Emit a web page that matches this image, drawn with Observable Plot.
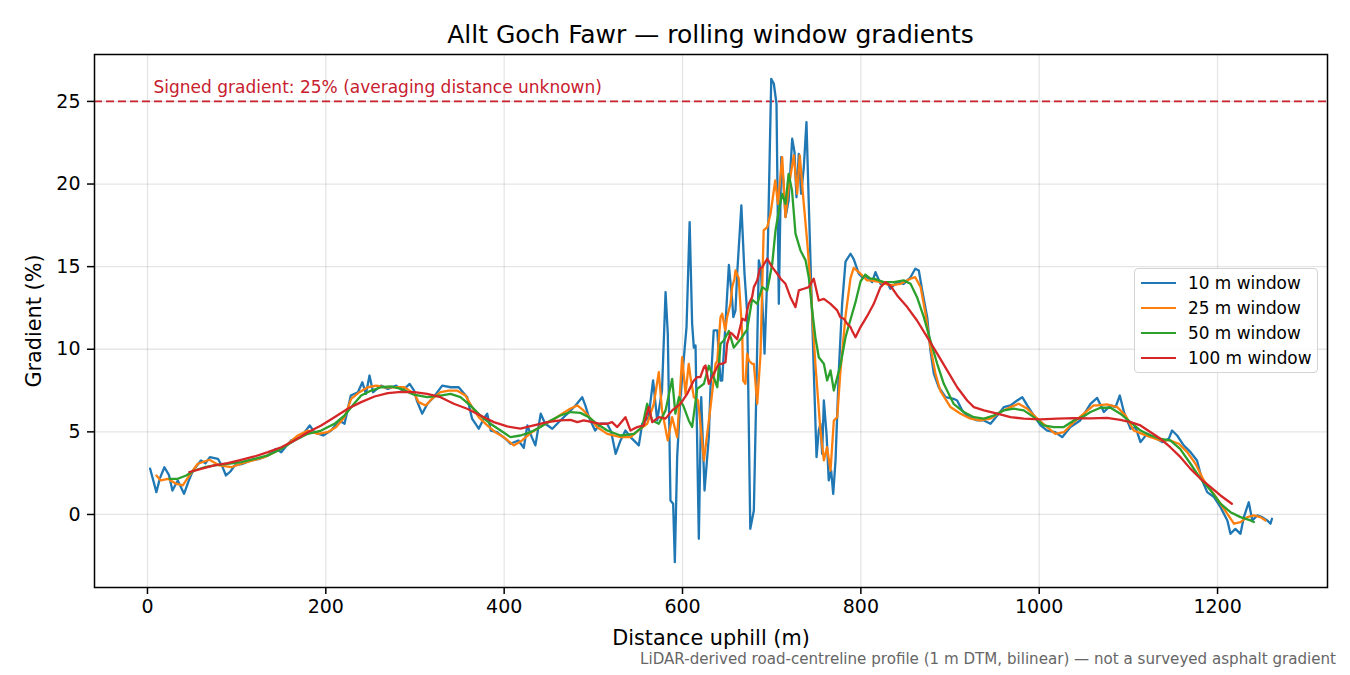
<!DOCTYPE html>
<html><head><meta charset="utf-8">
<script src="https://cdn.jsdelivr.net/npm/d3@7"></script>
<script src="https://cdn.jsdelivr.net/npm/@observablehq/plot@0.6"></script>
<style>
html,body{margin:0;padding:0;background:#fff;}
#wrap{position:relative;width:1350px;height:675px;font-family:"DejaVu Sans",sans-serif;overflow:hidden;}
#title{position:absolute;left:94px;width:1233px;top:22px;text-align:center;font-size:25px;line-height:25px;color:#000;}
#caption{position:absolute;right:14px;top:652px;font-size:15.1px;line-height:15px;color:#666;white-space:nowrap;}
#legend{position:absolute;left:1134px;top:268px;width:182px;height:103px;border:1px solid #d4d4d4;border-radius:4px;background:rgba(255,255,255,0.85);}
.row{position:absolute;left:0;height:25px;width:180px;}
.sw{position:absolute;left:6px;top:11px;width:35px;height:0;border-top:2.4px solid;}
.lb{position:absolute;left:53px;top:0;font-size:16.9px;line-height:25px;color:#000;white-space:nowrap;}
</style></head><body>
<div id="wrap">
  <div id="chart"></div>
  <div id="title">Allt Goch Fawr — rolling window gradients</div>
  <div id="legend"></div>
  <div id="caption">LiDAR-derived road-centreline profile (1 m DTM, bilinear) — not a surveyed asphalt gradient</div>
</div>
<script>
// ---- data (distance m, gradient %) ----
const seriesNames = ["10 m window", "25 m window", "50 m window", "100 m window"];
const seriesColors = ["#1f77b4", "#ff7f0e", "#2ca02c", "#d62728"];
const xTicks = [0, 200, 400, 600, 800, 1000, 1200];
const yTicks = [0, 5, 10, 15, 20, 25];
const signedGradient = 25;

const win10 = [[3,2.77],[10,1.35],[14,2.2],[19,2.86],[24,2.4],[28,1.45],[34,2.06],[41,1.25],[46,2.0],[51,2.66],[60,3.27],[65,3.1],[70,3.47],[79,3.37],[84,2.9],[88,2.36],[93,2.6],[98,2.97],[107,3.07],[116,3.27],[126,3.37],[135,3.57],[144,3.97],[150,3.77],[155,4.1],[161,4.48],[172,4.68],[182,5.39],[187,4.98],[197,4.78],[206,5.08],[215,5.69],[221,5.49],[228,7.2],[236,7.4],[241,8.0],[245,7.3],[249,8.41],[253,7.4],[262,7.8],[269.5,7.6],[279,7.8],[286,7.5],[294,7.9],[299,7.5],[302,6.9],[308,6.1],[314,6.7],[321,7.1],[330.5,7.8],[340,7.7],[349,7.7],[358.5,7.1],[364,5.8],[371.5,5.19],[377,5.8],[381,6.1],[385,5.08],[392,4.98],[401.5,4.58],[407,4.28],[416,4.48],[422,4.04],[426,5.39],[431,4.68],[435,4.18],[441,6.1],[446,5.49],[454,5.19],[463,5.69],[471,6.1],[480,6.6],[487.5,7.1],[491,6.6],[495,5.89],[502,5.08],[508,5.49],[515.5,5.49],[520,5.0],[525,3.67],[530.5,4.48],[536,5.08],[541.7,4.68],[551,4.18],[554.8,5.49],[562,5.89],[567,8.11],[571.6,5.69],[577,7.5],[581,13.46],[583.5,10.94],[586.5,0.85],[589.5,0.65],[591.4,-2.89],[594,3.47],[597.7,7.1],[604.5,11.34],[608,17.7],[610.8,11.54],[612.7,10.1],[614.6,10.23],[618.3,-1.47],[621,7.1],[624.7,1.45],[629.5,4.68],[631.4,7.7],[635,11.14],[639,11.14],[642.6,8.11],[644.5,8.11],[652,15.1],[655.7,12.95],[657,11.94],[659.4,12.35],[661.3,14.57],[666,18.7],[669.5,14.6],[672.5,12.2],[676,-0.87],[680,0.24],[683,8.0],[685.6,15.38],[688,14.77],[692,9.73],[695,14.36],[699.5,26.37],[702.4,26.07],[705.4,24.86],[708,12.75],[710.7,21.63],[713,20.22],[715.5,18.0],[719,19.0],[723,22.74],[725.6,21.93],[727.8,19.2],[730.4,21.83],[733,19.41],[736,21.0],[739,23.75],[741.6,18.8],[744.3,13.96],[747.2,8.72],[750.3,3.47],[752.8,5.08],[754.7,5.49],[756.6,3.67],[758.5,6.9],[761.5,4.88],[764,2.06],[766.7,2.66],[769,1.25],[771.6,3.27],[775.3,8.72],[779,12.75],[782.8,15.3],[788.4,15.78],[792,15.45],[797.7,14.57],[801.5,14.36],[807,14.36],[812.7,14.06],[816.4,14.67],[822,13.96],[829.5,14.06],[833,13.66],[840.7,14.06],[848,13.96],[855.7,14.36],[861,14.87],[865,14.77],[868.8,13.56],[874.4,11.94],[878,9.93],[881.8,8.52],[887.4,7.7],[895,7.1],[904,7.0],[908,6.9],[913.6,6.3],[921,5.89],[930.5,5.69],[938,5.69],[945.4,5.49],[953,5.99],[960.3,6.5],[967.8,6.6],[975.3,6.9],[981,7.1],[986.6,6.6],[994,5.99],[1001.5,5.39],[1009,5.08],[1018,4.98],[1025.8,4.68],[1035,5.29],[1046,5.69],[1057.5,6.7],[1065,7.05],[1072.5,6.2],[1080,6.6],[1085.6,6.5],[1090.4,7.2],[1095,6.2],[1102.4,5.19],[1108,5.29],[1113.6,4.38],[1121,4.88],[1128.5,4.68],[1138,4.38],[1145.3,4.58],[1149,5.08],[1154.7,4.78],[1162,4.18],[1169.7,3.77],[1177,3.27],[1182.8,2.06],[1188.4,1.35],[1196,1.05],[1203.3,0.44],[1211,-0.36],[1214.5,-1.17],[1220,-0.87],[1225.7,-1.17],[1229.5,-0.16],[1235,0.74],[1239,-0.36],[1244.5,-0.06],[1250,-0.16],[1255.7,-0.36],[1259.4,-0.56],[1261,-0.26]];

const win25 = [[10,2.36],[15,2.06],[23,2.16],[32,1.86],[39.6,1.76],[47,2.36],[56.4,3.07],[69.5,3.31],[80.7,2.97],[93.8,2.86],[105,3.07],[118,3.27],[131,3.47],[142.4,3.77],[155.5,4.18],[168.6,4.78],[179.8,5.08],[191,4.88],[202,4.98],[211.6,5.29],[221,5.89],[228.4,7.0],[237.7,7.4],[247,7.7],[256.5,7.8],[266,7.7],[277,7.7],[288,7.7],[299.4,7.3],[304,6.8],[312,6.6],[319,7.0],[328.6,7.4],[338,7.5],[347,7.5],[356.6,7.2],[364,6.5],[371.5,5.89],[381,5.39],[390,4.98],[399.6,4.68],[410.8,4.18],[420,4.48],[431,4.98],[442.6,5.39],[454,5.69],[465,6.1],[474,6.4],[482,6.6],[489,6.3],[497,5.8],[504,5.29],[515.6,4.88],[530.5,4.68],[541.7,4.68],[553,5.19],[560.4,5.49],[567.8,6.7],[573.4,8.61],[577,6.3],[583.5,4.48],[588.4,5.89],[594,4.68],[599.6,9.52],[603.4,7.3],[607,9.12],[609,8.3],[612.7,7.1],[617.5,6.9],[624,3.27],[631.4,6.5],[637,9.12],[639,9.3],[642.6,11.94],[644.5,12.15],[648,11.14],[650,11.94],[653.8,12.75],[655.7,13.76],[658.3,14.27],[659.4,14.77],[663,14.3],[667,10.94],[668,8.11],[670.6,7.91],[672.5,9.73],[674.4,9.32],[678,9.12],[680,9.12],[683.8,6.7],[687.5,9.73],[691,17.19],[695,17.39],[698.7,18.2],[704,20.22],[707,18.8],[711.8,21.63],[715.5,18.0],[719,19.8],[724.8,21.73],[728.6,19.41],[731.5,21.73],[736,18.8],[740,16.39],[743.5,13.96],[749,9.12],[754.7,5.08],[758.5,3.27],[762,4.07],[766,2.66],[769.7,5.69],[773.5,5.89],[777,8.6],[782.8,12.0],[788.4,14.3],[792,14.92],[799.6,14.57],[807,14.17],[810.8,14.17],[822,14.06],[833,13.86],[844.5,13.96],[855.7,14.27],[861,14.36],[867,13.76],[872.5,12.15],[878,10.13],[883.7,8.52],[889,7.5],[900.5,6.5],[911.8,6.1],[923,5.8],[934,5.69],[945.4,5.8],[956.6,6.2],[967.8,6.5],[977,6.7],[986.6,6.4],[997.8,5.8],[1009,5.29],[1018,4.88],[1027.6,4.98],[1038.8,5.59],[1050,6.1],[1061,6.6],[1065,6.6],[1076,6.66],[1087.5,6.5],[1096.8,5.99],[1106,5.08],[1115.5,4.88],[1125,4.68],[1136,4.48],[1147,4.48],[1156.6,4.28],[1166,3.77],[1175.3,3.07],[1184.6,2.06],[1195.8,1.25],[1203.3,0.65],[1211,0.04],[1218.4,-0.56],[1225.7,-0.46],[1233.3,-0.16],[1240.7,-0.06],[1248,-0.16],[1253.8,-0.36]];

const win50 = [[24.7,2.16],[34,2.16],[43.4,2.36],[52.7,2.66],[64,2.86],[75,2.97],[90,3.07],[105,3.17],[120,3.37],[135,3.57],[150,3.97],[164.9,4.48],[179.8,4.88],[194.8,5.08],[209.7,5.49],[221,5.99],[230,6.6],[239.6,7.2],[251,7.5],[262,7.7],[273,7.75],[284.5,7.6],[298.7,7.25],[313.7,7.1],[328.6,7.2],[339.8,7.3],[351,7.1],[362,6.6],[373.4,5.99],[384.7,5.49],[396,5.08],[407,4.68],[418.3,4.78],[429.5,4.98],[440.7,5.29],[452,5.69],[463,5.99],[474.4,6.2],[485.6,6.15],[495,5.89],[504,5.49],[515.6,5.08],[530.5,4.78],[545.4,4.88],[554.8,5.29],[560.4,6.7],[566,5.69],[573.4,5.49],[581,6.3],[588.4,8.21],[592,6.1],[596,7.1],[601.5,6.5],[607,5.69],[610.8,5.29],[616.5,7.6],[624,7.91],[629.5,9.0],[635,8.31],[639,7.7],[642.6,10.33],[646.3,10.53],[652,11.1],[657.5,10.1],[665,10.6],[672.5,11.2],[678,13.0],[683.8,12.75],[689.4,13.76],[695,13.56],[700.6,15.17],[704.3,17.19],[708,18.4],[711.8,19.41],[715.5,18.8],[719,20.62],[722.8,19.61],[726.7,17.0],[732.3,15.98],[738,15.38],[741.6,14.36],[745.4,12.35],[749,10.73],[752.8,9.52],[758.5,9.12],[762.2,8.11],[766,8.72],[769.7,7.5],[773.5,8.31],[777,9.0],[782.8,10.73],[788.4,11.8],[794,12.85],[799.6,14.1],[805,14.52],[810.8,14.27],[814.5,14.27],[825.7,14.06],[837,14.06],[848,14.17],[855.7,13.96],[863,13.15],[870.6,11.94],[878,10.53],[885.6,9.12],[893,7.91],[904,6.7],[915.4,6.2],[926.7,5.89],[938,5.8],[949,5.99],[960.3,6.3],[971.5,6.4],[982.7,6.3],[994,5.89],[1005,5.39],[1016.4,5.29],[1027.6,5.29],[1038.8,5.69],[1050,5.95],[1057.5,6.2],[1068.7,6.46],[1080,6.46],[1091,6.1],[1102.4,5.59],[1113.6,5.08],[1125,4.78],[1136,4.58],[1147,4.48],[1158,3.97],[1169.7,3.07],[1181,2.16],[1192.3,1.45],[1203.3,0.65],[1214.5,0.14],[1225.7,-0.16],[1237,-0.36],[1240.7,-0.46]];

const win100 = [[47,2.56],[60,2.76],[75,2.97],[90,3.11],[105,3.31],[120,3.51],[135,3.77],[150,4.07],[164.9,4.48],[179.8,4.98],[194.8,5.39],[209.7,5.89],[224.6,6.4],[239.6,6.8],[254.6,7.14],[269.5,7.34],[284.5,7.42],[299.4,7.4],[313.7,7.3],[328.6,7.1],[343.5,6.7],[358.5,6.4],[373.4,5.99],[388.4,5.59],[403.4,5.33],[418.3,5.19],[433.2,5.39],[448.2,5.59],[463,5.69],[474.4,5.73],[482,5.59],[489.3,5.69],[498.7,5.59],[508,5.49],[515.6,5.49],[521,5.59],[526.8,5.29],[536,5.89],[541.7,5.08],[549.2,5.29],[556.6,5.39],[562.2,6.5],[566,5.59],[573.4,5.89],[581,5.8],[588.4,6.3],[597.7,6.7],[605.2,7.3],[612.7,8.11],[616.5,8.31],[620,8.31],[624,8.92],[625.8,9.02],[629.5,7.91],[635,8.52],[637,8.72],[640.7,9.12],[644.5,9.12],[648.2,9.22],[650,10.33],[653.8,11.0],[655.7,10.94],[661.3,10.6],[667,11.85],[670.6,11.74],[672.5,12.35],[674.4,12.75],[678,13.15],[680,13.76],[683.8,14.17],[686.7,14.87],[689.4,14.97],[695,15.48],[700.6,14.97],[706.2,14.57],[710,14.27],[715.5,13.96],[721,13.15],[726.7,12.55],[730.4,13.56],[736,13.66],[741.6,13.76],[747.2,14.27],[752.8,12.95],[758.5,13.05],[766,12.75],[773.5,12.35],[777,11.94],[780.9,11.85],[784.7,11.54],[788.4,11.34],[790,11.14],[794,10.73],[799.6,11.34],[807,12.0],[814.5,12.75],[822,13.76],[827.6,14.06],[833,13.86],[840.7,13.26],[852,12.55],[863,11.74],[874.4,10.73],[885.6,9.73],[896.8,8.72],[908,7.7],[919.2,6.9],[926.7,6.5],[938,6.3],[953,6.1],[967.8,5.89],[982.7,5.8],[1001.5,5.75],[1020,5.8],[1038.8,5.83],[1057.5,5.82],[1076,5.85],[1091,5.73],[1102.4,5.59],[1113.6,5.39],[1125,4.98],[1136,4.58],[1147,4.07],[1158.5,3.47],[1169.7,2.76],[1181,2.16],[1192.3,1.65],[1203.3,1.15],[1216,0.65]];

const allSeries = [win10, win25, win50, win100];

// ---- chart ----
const lineMarks = allSeries.map((s, i) =>
  Plot.line(s, {x: d => d[0], y: d => d[1], stroke: seriesColors[i], strokeWidth: 2.3, strokeLinejoin: "round", curve: "linear"})
);

const chart = Plot.plot({
  width: 1350,
  height: 675,
  marginLeft: 94,
  marginRight: 23,
  marginTop: 54,
  marginBottom: 88,
  style: {fontFamily: "DejaVu Sans, sans-serif", background: "#fff", color: "#000"},
  x: {domain: [-59.4, 1323.3]},
  y: {domain: [-4.42, 27.84]},
  marks: [
    Plot.gridX(xTicks, {stroke: "#000", strokeOpacity: 0.1, strokeWidth: 1.3}),
    Plot.gridY(yTicks, {stroke: "#000", strokeOpacity: 0.1, strokeWidth: 1.3}),
    Plot.ruleY([signedGradient], {stroke: "#c8202f", strokeWidth: 1.6, strokeDasharray: "8,4"}),
    ...lineMarks,
    Plot.text([signedGradient], {x: () => xTicks[0], y: d => d, text: d => `Signed gradient: ${d}% (averaging distance unknown)`,
      textAnchor: "start", lineAnchor: "bottom", dx: 6, dy: -8, fill: "#c8202f", fontSize: 17}),
    Plot.axisX(xTicks, {tickSize: 7, tickPadding: 5, fontSize: 19, strokeWidth: 1.5, tickFormat: d => String(d), label: null}),
    Plot.axisY(yTicks, {tickSize: 7, tickPadding: 7, fontSize: 19, strokeWidth: 1.5, tickFormat: d => String(d), label: null}),
    Plot.frame({stroke: "#000", strokeWidth: 1.5}),
    Plot.text(["Distance uphill (m)"], {frameAnchor: "bottom", dy: 51, lineAnchor: "middle", fontSize: 20.8}),
    Plot.text(["Gradient (%)"], {frameAnchor: "left", dx: -60, rotate: -90, textAnchor: "middle", lineAnchor: "middle", fontSize: 20.8})
  ]
});
document.getElementById("chart").appendChild(chart);

// ---- legend ----
const legend = document.getElementById("legend");
seriesNames.forEach((name, i) => {
  const row = document.createElement("div");
  row.className = "row";
  row.style.top = (2 + i * 25) + "px";
  const sw = document.createElement("div");
  sw.className = "sw";
  sw.style.borderTopColor = seriesColors[i];
  const lb = document.createElement("div");
  lb.className = "lb";
  lb.textContent = name;
  row.appendChild(sw);
  row.appendChild(lb);
  legend.appendChild(row);
});
</script>
</body></html>
